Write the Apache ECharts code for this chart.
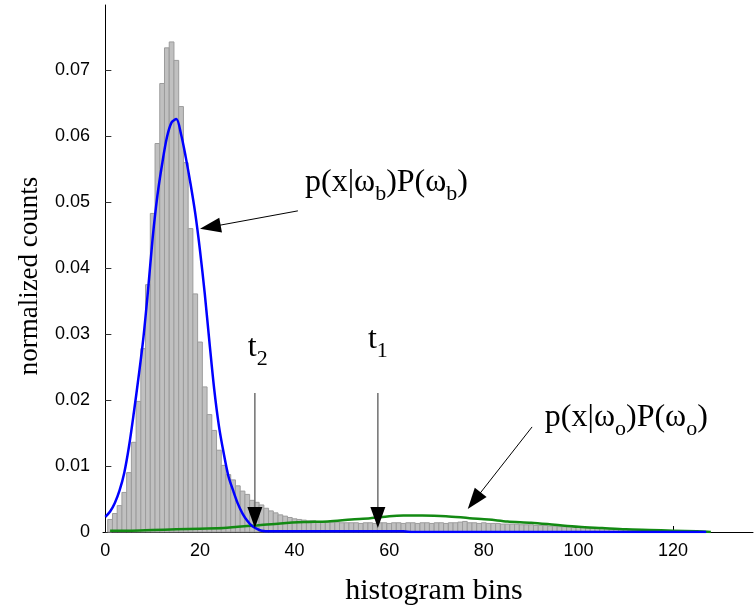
<!DOCTYPE html>
<html><head><meta charset="utf-8">
<script src="https://cdn.jsdelivr.net/npm/echarts@6/dist/echarts.min.js"></script>
<style>html,body{margin:0;padding:0;background:#fff}#c{width:754px;height:608px}</style>
</head><body><div id="c"></div>
<script>
// histogram bin values (bins 1..127)
const histValues = [
 0.0019,0.0028,0.0040,0.0060,0.0090,0.0136,0.0198,0.0278,0.0375,0.0483,
 0.0589,0.0680,0.0734,0.0743,0.0715,0.0645,0.0560,0.0460,0.0361,0.0288,
 0.0220,0.0178,0.0154,0.0124,0.0101,0.0087,0.0079,0.0070,0.0062,0.0057,
 0.0048,0.0045,0.0041,0.0036,0.0032,0.0029,0.0026,0.0024,0.0022,0.0020,
 0.0019,0.0018,0.0017,0.0017,0.0016,0.0016,0.0015,0.0015,0.0015,0.0014,
 0.0014,0.0014,0.0014,0.0013,0.0014,0.0014,0.0013,0.0014,0.0014,0.0013,
 0.0014,0.0014,0.0013,0.0014,0.0014,0.0013,0.0014,0.0014,0.0013,0.0014,
 0.0014,0.0013,0.0014,0.0014,0.0015,0.0016,0.0014,0.0014,0.0013,0.0014,
 0.0013,0.0013,0.0013,0.0012,0.0012,0.0012,0.0012,0.0011,0.0011,0.0011,
 0.0010,0.0010,0.0010,0.0009,0.0009,0.0008,0.0008,0.0008,0.0007,0.0007,
 0.0007,0.0006,0.0006,0.0006,0.0005,0.0005,0.0004,0.0004,0.0004,0.0004,
 0.0003,0.0003,0.0003,0.0003,0.0003,0.0002,0.0002,0.0002,0.0002,0.0002,
 0.0002,0.0002,0.0001,0.0001,0.0001,0.0001,0.0001
];
// p(x|wb)P(wb) curve points [bin, value]
const blueCurve = [
 [0,0.0023],[1,0.0031],[2,0.0044],[3,0.0063],[4,0.0090],[5,0.0130],[6,0.0180],
 [7,0.0234],[8,0.0292],[9,0.0365],[10,0.0446],[11,0.0510],[12,0.0558],[13,0.0598],
 [14,0.0621],[15,0.0626],[16,0.0603],[17,0.0568],[18,0.0528],[19,0.0483],[20,0.0427],
 [21,0.0362],[22,0.0288],[23,0.0217],[24,0.0161],[25,0.0120],[26,0.0085],[27,0.0063],
 [28,0.0043],[29,0.0028],[30,0.0017],[31,0.0009],[32,0.0005],[33,0.0002],[35,0.0001],
 [63,0.0001],[65,0.0000],[127,0.0000]
];
// p(x|wo)P(wo) curve points [bin, value]
const greenCurve = [
 [1,0.0002],[5,0.0002],[10,0.0003],[15,0.0004],[20,0.0005],[25,0.0006],[28,0.0008],
 [32,0.0010],[37,0.0013],[42,0.0015],[47,0.0016],[52,0.0019],[56,0.0021],[60,0.0024],
 [63,0.0025],[67,0.0025],[72,0.0024],[77,0.0021],[81,0.0019],[85,0.0016],[90,0.0014],
 [95,0.0011],[100,0.0008],[105,0.0006],[110,0.0004],[115,0.0003],[120,0.0002],
 [125,0.0001],[128,0.0000]
];
const xTicks = [0,20,40,60,80,100,120];
const yTicks = [0,0.01,0.02,0.03,0.04,0.05,0.06,0.07];
const yTickLabels = ['0','0.01','0.02','0.03','0.04','0.05','0.06','0.07'];

// annotation texts (data coords of top-left) and arrows (tail -> tip, data coords)
const annotations = [
  {pos:[42.2,0.05536], rich:'{m|p(x|ω}{s|b}{m|)P(ω}{s|b}{m|)}'},
  {pos:[30.1,0.03033], rich:'{m|t}{s|2}'},
  {pos:[55.5,0.03155], rich:'{m|t}{s|1}'},
  {pos:[92.9,0.01972], rich:'{m|p(x|ω}{s|o}{m|)P(ω}{s|o}{m|)}'}
];
const arrows = [
  {tail:[40.7,0.04869], tip:[20.0,0.04596], color:'#000', width:1},
  {tail:[31.6,0.02108], tip:[31.6,0.00061], color:'#707070', width:1.5},
  {tail:[57.6,0.02108], tip:[57.6,0.00061], color:'#707070', width:1.5},
  {tail:[90.2,0.01593], tip:[76.6,0.00349], color:'#000', width:1}
];

const histData = histValues.map((v,i)=>[i+1, v]);

const chart = echarts.init(document.getElementById('c'), null, {renderer:'canvas'});
const serif = 'Liberation Serif, Times New Roman, serif';
const sans = 'Liberation Sans, Arial, sans-serif';

chart.setOption({
  animation:false,
  grid:{left:103, right:1, top:5, bottom:76},
  xAxis:{type:'value', min:-0.5, max:136.9,
    axisLine:{show:true, lineStyle:{color:'#000', width:1}},
    axisTick:{show:true, inside:true, length:6, lineStyle:{color:'#000'}, customValues:xTicks},
    axisLabel:{color:'#000', fontFamily:sans, fontSize:18, margin:10, customValues:xTicks},
    splitLine:{show:false}},
  yAxis:{type:'value', min:0, max:0.0799, interval:0.01,
    axisLine:{show:true, lineStyle:{color:'#000', width:1}},
    axisTick:{show:true, inside:true, length:6, lineStyle:{color:'#333'}, customValues:yTicks},
    axisLabel:{color:'#000', fontFamily:sans, fontSize:18, margin:13, customValues:yTicks,
      formatter:(v)=>{const i=yTicks.findIndex(t=>Math.abs(t-v)<1e-9);return i>=0?yTickLabels[i]:'';}},
    splitLine:{show:false}},
  series:[
    {type:'custom', data:histData, z:1,
     renderItem:(params, api)=>{
       const x=api.value(0), y=api.value(1);
       const p0=api.coord([x-0.5,y]), p1=api.coord([x+0.5,0]);
       return {type:'rect', shape:{x:p0[0], y:p0[1], width:p1[0]-p0[0], height:p1[1]-p0[1]},
               style:{fill:'#c0c0c0', stroke:'#9c9c9c', lineWidth:1}};
     }},
    {type:'line', data:greenCurve, showSymbol:false, smooth:0.3, z:3,
     lineStyle:{color:'#138a13', width:2.5}},
    {type:'line', data:blueCurve, showSymbol:false, smooth:0.3, z:4,
     lineStyle:{color:'#0000ff', width:2.5}}
  ]
});

const richStyles = {
  m:{fontFamily:serif, fontSize:32, color:'#000', lineHeight:34, verticalAlign:'top'},
  s:{fontFamily:serif, fontSize:22, color:'#000', lineHeight:22, verticalAlign:'top', padding:[16,0,0,0]}
};
const graphics = [];
annotations.forEach(a=>{
  const p = chart.convertToPixel({gridIndex:0}, a.pos);
  graphics.push({type:'text', x:p[0], y:p[1], silent:true, z:10,
    style:{text:a.rich, rich:richStyles, align:'left', verticalAlign:'top'}});
});
const headLen = 21, headHalf = 7.5;
arrows.forEach(a=>{
  const t0 = chart.convertToPixel({gridIndex:0}, a.tail);
  const t1 = chart.convertToPixel({gridIndex:0}, a.tip);
  const dx = t1[0]-t0[0], dy = t1[1]-t0[1], L = Math.hypot(dx,dy);
  const ux = dx/L, uy = dy/L;
  const bx = t1[0]-ux*headLen, by = t1[1]-uy*headLen;
  graphics.push({type:'line', silent:true, z:10,
    shape:{x1:t0[0], y1:t0[1], x2:bx+ux*2, y2:by+uy*2}, style:{stroke:a.color, lineWidth:a.width}});
  graphics.push({type:'polygon', silent:true, z:11,
    shape:{points:[[t1[0],t1[1]],[bx-uy*headHalf, by+ux*headHalf],[bx+uy*headHalf, by-ux*headHalf]]},
    style:{fill:'#000'}});
});
graphics.push({type:'text', x:434, y:591, silent:true,
  style:{text:'histogram bins', fontFamily:serif, fontSize:30, fill:'#000', align:'center', verticalAlign:'middle'}});
graphics.push({type:'text', x:30, y:276, rotation:Math.PI/2, silent:true,
  style:{text:'normalized counts', fontFamily:serif, fontSize:27, fill:'#000', align:'center', verticalAlign:'middle'}});
chart.setOption({graphic:graphics});
</script></body></html>
